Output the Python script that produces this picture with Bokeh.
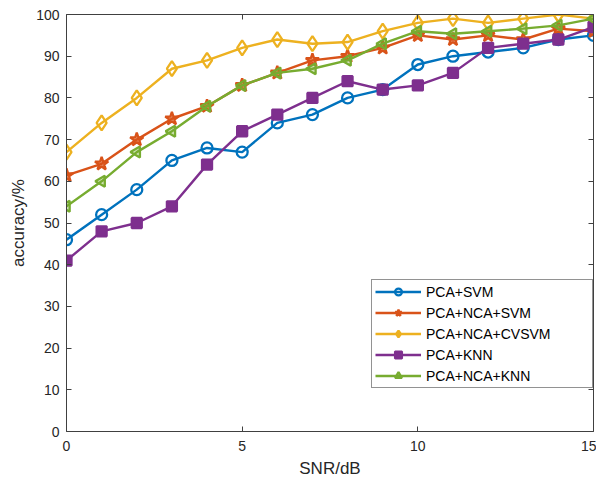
import numpy as np
from bokeh.plotting import figure
from bokeh.models import LinearAxis, FixedTicker, Legend, LegendItem
from bokeh.embed import file_html
from bokeh.resources import INLINE

snr = list(range(16))
pca_svm = [46, 52, 58, 65, 68, 67, 74, 76, 80, 82, 88, 90, 91, 92, 94, 95]
pca_nca_svm = [61.4, 64.2, 70, 75, 78, 83, 86, 89, 90, 92, 95, 94, 95, 94, 96.6, 96]
pca_nca_cvsvm = [67, 74, 80, 87, 89, 92, 94, 93, 93.4, 96, 98, 99, 98, 99, 100, 99]
pca_knn = [41, 48, 50, 54, 64, 72, 76, 80, 84, 82, 83, 86, 92, 93, 94, 97]
pca_nca_knn = [54, 60, 67, 72, 78, 83, 86, 87, 89, 93, 96, 95.4, 96, 96.6, 97.4, 99]
names = ["PCA+SVM", "PCA+NCA+SVM", "PCA+NCA+CVSVM", "PCA+KNN", "PCA+NCA+KNN"]
x_ticks = [0, 5, 10, 15]
y_ticks = [0, 10, 20, 30, 40, 50, 60, 70, 80, 90, 100]

FONT = "Liberation Sans"
AX = "#404040"
TXT = "#262626"

p = figure(width=596, height=481, x_range=(0, 15), y_range=(0, 100),
           output_backend="svg", toolbar_location=None,
           min_border_left=66, min_border_right=3, min_border_top=14, min_border_bottom=50,
           background_fill_color="white", border_fill_color="white")
p.outline_line_color = None
p.xgrid.visible = False
p.ygrid.visible = False

def style_axis(ax):
    ax.axis_line_color = AX
    ax.axis_line_width = 1
    ax.major_tick_line_color = AX
    ax.major_tick_in = 5
    ax.major_tick_out = 0
    ax.minor_tick_line_color = None
    ax.major_label_text_font = FONT
    ax.major_label_text_color = TXT
    ax.axis_label_text_font = FONT
    ax.axis_label_text_color = TXT
    ax.axis_label_text_font_style = "normal"
    ax.axis_label_text_font_size = "17px"
    ax.major_label_text_font_size = "14px"

p.xaxis.ticker = FixedTicker(ticks=x_ticks)
p.yaxis.ticker = FixedTicker(ticks=y_ticks)
p.xaxis.axis_label = "SNR/dB"
p.yaxis.axis_label = "accuracy/%"
style_axis(p.xaxis[0])
style_axis(p.yaxis[0])
p.xaxis.major_label_standoff = 9
p.xaxis.axis_label_standoff = 5
p.yaxis.major_label_standoff = 7
p.yaxis.axis_label_standoff = 5

top = LinearAxis(ticker=FixedTicker(ticks=x_ticks),
                 major_label_overrides={t: "" for t in x_ticks}, major_label_standoff=0)
style_axis(top)
top.major_label_text_font_size = "1px"
p.add_layout(top, "above")
right = LinearAxis(ticker=FixedTicker(ticks=y_ticks),
                   major_label_overrides={t: "" for t in y_ticks}, major_label_standoff=0)
style_axis(right)
right.major_label_text_font_size = "1px"
p.add_layout(right, "right")

series = [
    (pca_svm, "#0072BD", "circle", 11, None, 0.0),
    (pca_nca_svm, "#D95319", "star", 14, "#D95319", 0.6),
    (pca_nca_cvsvm, "#EDB120", "diamond", 15, None, 0.0),
    (pca_knn, "#7E2F8E", "square", 10, "#7E2F8E", 1.0),
    (pca_nca_knn, "#77AC30", "triangle", 11, "#77AC30", 0.35),
]

items = []
for (vals, color, marker, size, fill, falpha), name in zip(series, names):
    r1 = p.line(snr, vals, line_color=color, line_width=2.4)
    kw = dict(marker=marker, size=size, line_color=color, line_width=2.3,
              fill_color=fill if fill else None, fill_alpha=falpha)
    if marker == "triangle":
        kw["angle"] = np.pi / 2
    r2 = p.scatter(snr, vals, **kw)
    items.append(LegendItem(label=name, renderers=[r1, r2]))

legend = Legend(items=items, location=(305, 43),
                border_line_color=TXT, border_line_width=1,
                background_fill_color="white", background_fill_alpha=1,
                label_text_font=FONT, label_text_font_size="14px", label_text_color="black",
                glyph_width=46, glyph_height=17, label_height=17,
                spacing=4, padding=3, margin=0, label_standoff=5, label_width=163)
p.add_layout(legend)

open("out.html", "w").write(file_html(p, INLINE))
